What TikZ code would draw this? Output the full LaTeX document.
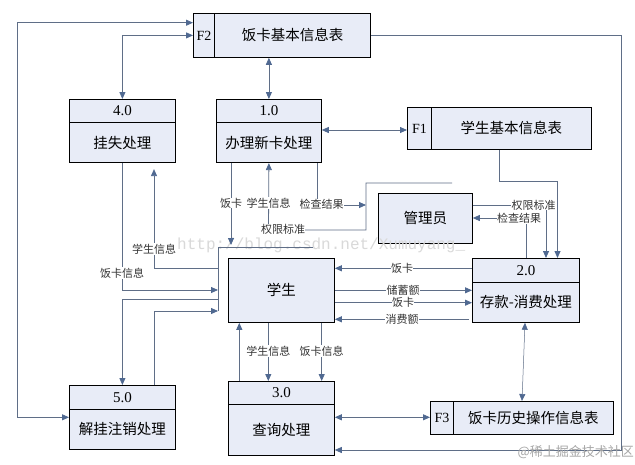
\documentclass[tikz,border=0pt]{standalone}
\usepackage{fontspec}
\setmainfont{Liberation Serif}
\newfontfamily\cjk{Noto Sans CJK SC}
\newfontfamily\wmono{Liberation Mono}
\usetikzlibrary{arrows.meta,calc}
\definecolor{boxfill}{RGB}{232,236,247}
\definecolor{linecol}{RGB}{95,110,135}
\definecolor{arrcol}{RGB}{80,105,145}
\tikzset{
  box/.style={draw=black, line width=0.8pt, fill=boxfill, inner sep=0pt, anchor=north west},
  ttl/.style={font=\cjk\fontsize{14.5}{16}\selectfont},
  num/.style={font=\fontsize{15}{16}\selectfont},
  lab/.style={font=\cjk\fontsize{11}{11}\selectfont, fill=white, inner sep=0.4pt, text=black!80},
  fl/.style={draw=linecol, line width=0.8pt},
  arr/.style={fl, -{Triangle[length=7pt,width=6pt,color=arrcol]}},
  barr/.style={fl, {Triangle[length=7pt,width=6pt,color=arrcol]}-{Triangle[length=7pt,width=6pt,color=arrcol]}},
}
\begin{document}
\begin{tikzpicture}[x=1pt,y=-1pt]
\fill[white] (0,0) rectangle (635,464);
\useasboundingbox (0,0) rectangle (635,464);

% data stores
\node[box, minimum width=21.3pt, minimum height=44pt, font=\fontsize{14}{15}\selectfont] (f2c) at (193,13) {F2};
\node[box, minimum width=155.7pt, minimum height=44pt, ttl] (f2) at (214.3,13) {饭卡基本信息表};
\node[box, minimum width=24pt, minimum height=42pt, font=\fontsize{14}{15}\selectfont] (f1c) at (407,107) {F1};
\node[box, minimum width=160pt, minimum height=42pt, ttl] (f1) at (431,107) {学生基本信息表};
\node[box, minimum width=23pt, minimum height=33pt, font=\fontsize{14}{15}\selectfont] (f3c) at (430,401) {F3};
\node[box, minimum width=160pt, minimum height=33pt, ttl] (f3) at (453,401) {饭卡历史操作信息表};

% processes
\node[box, minimum width=106pt, minimum height=23.3pt, num] (p4h) at (69,99) {4.0};
\node[box, minimum width=106pt, minimum height=40pt, ttl] (p4b) at (69,122.3) {挂失处理};
\node[box, minimum width=105pt, minimum height=23.3pt, num] (p1h) at (216,99) {1.0};
\node[box, minimum width=105pt, minimum height=40pt, ttl] (p1b) at (216,122.3) {办理新卡处理};
\node[box, minimum width=106pt, minimum height=24pt, num] (p5h) at (69,385) {5.0};
\node[box, minimum width=106pt, minimum height=40pt, ttl] (p5b) at (69,409) {解挂注销处理};
\node[box, minimum width=106pt, minimum height=23pt, num] (p3h) at (228,381) {3.0};
\node[box, minimum width=106pt, minimum height=51pt, ttl] (p3b) at (228,404) {查询处理};
\node[box, minimum width=107pt, minimum height=24pt, num] (p2h) at (472,258) {2.0};
\node[box, minimum width=107pt, minimum height=40pt, ttl] (p2b) at (472,282) {存款-消费处理};

% external entities
\node[box, minimum width=106pt, minimum height=64pt, ttl] (stu) at (228,258) {学生};
\node[box, minimum width=94pt, minimum height=50pt, ttl] (adm) at (378,193) {管理员};

% helper coordinates
\coordinate (admEnd) at (452,183);
\coordinate (busT) at (218,247);
\coordinate (busR) at (313,247);
\coordinate (bA) at (218,268.3);
\coordinate (bB) at (218,290);
\coordinate (bC) at (218,299);
\coordinate (bD) at (218,311);

% watermark (behind connectors)
\node[text=black!15, font=\wmono\fontsize{16}{16}\selectfont, anchor=west, inner sep=0pt] (wm1) at (177,245.5) {http://blog.csdn.net/Xumuyang\_};

% F2 connections
\draw[barr] (p1h.north) -- (p1h.north |- f2.south);
\draw[barr] (p4h.north) |- (f2c.west);
\draw[barr] (f2c.west |- 0,22.7) -| (17.3,417.3) -- (p5b.west |- 0,417.3);
\draw[arr] (f2.east) -| (621,450) -- (p3b.east |- 0,450);

% 1.0 and F1
\draw[barr] (p1b.east |- 0,130) -- (f1c.west |- 0,130);

% 1.0 lower connections
\draw[arr] (p1b.south -| 231,0) -- (231,245);
\draw[arr] (admEnd) -- (366,183) -- (366,230) -- (268.5,230) -- (p1b.south);
\draw[arr] (p1b.south -| 317,0) |- (366,205);
\node[lab] (l1) at (231,203) {饭卡};
\node[lab] (l2) at (268.5,203) {学生信息};
\node[lab] (l3) at (321.5,204.5) {检查结果};
\node[lab] (l4) at (283,229.5) {权限标准};

% left bus
\draw[fl] (bD) -- (busT) -- (busR);
\draw[arr, shorten >=6pt] (bA) -| (p4b.south -| 154,0);
\draw[arr] (p4b.south) |- (bB);
\draw[arr] (bC) -| (p5h.north);
\draw[arr] (p5h.north -| 154,0) |- (bD);
\node[lab] (l5) at (154,249) {学生信息};
\node[lab] (l6) at (122,273) {饭卡信息};

% 学生 - 2.0
\draw[arr] (p2h.west |- 0,268.3) -- (stu.east |- 0,268.3);
\draw[arr] (stu.east |- 0,290.3) -- (p2b.west |- 0,290.3);
\draw[arr] (stu.east |- 0,302.7) -- (p2b.west |- 0,302.7);
\draw[arr, shorten <=3pt] (p2b.west |- 0,319.3) -- (stu.east |- 0,319.3);
\node[lab] (l7) at (402,268.3) {饭卡};
\node[lab] (l8) at (403,290.3) {储蓄额};
\node[lab] (l9) at (403,302.7) {饭卡};
\node[lab] (l10) at (402,319.3) {消费额};

% 管理员 / F1 - 2.0
\draw[arr] (adm.east |- 0,205) -| (p2h.north -| 546,0);
\draw[arr] (f1.south -| 499.3,0) |- (557.5,181.7) -- (p2h.north -| 557.5,0);
\draw[arr] (p2h.north -| 526.7,0) |- (adm.east |- 0,218);
\node[lab] (l11) at (533.5,205) {权限标准};
\node[lab] (l12) at (519,218) {检查结果};

% 2.0 - F3
\draw[barr, line width=0.5pt] (p2b.south -| 525,0) -- (f3.north -| 522,0);

% 学生 - 3.0
\draw[arr] (p3h.north -| 239.3,0) -- (stu.south -| 239.3,0);
\draw[arr] (stu.south -| 268.3,0) -- (p3h.north -| 268.3,0);
\draw[arr] (stu.south -| 321.7,0) -- (p3h.north -| 321.7,0);
\node[lab] (l13) at (268.3,351) {学生信息};
\node[lab] (l14) at (321.7,351) {饭卡信息};

% 3.0 - F3
\draw[barr] (p3b.east |- 0,417.3) -- (f3c.west |- 0,417.3);

% bottom watermark
\node[text=black!35, font=\cjk\fontsize{13}{14}\selectfont, anchor=east, inner sep=0pt] (wm2) at (634,452) {@稀土掘金技术社区};
\end{tikzpicture}
\end{document}
